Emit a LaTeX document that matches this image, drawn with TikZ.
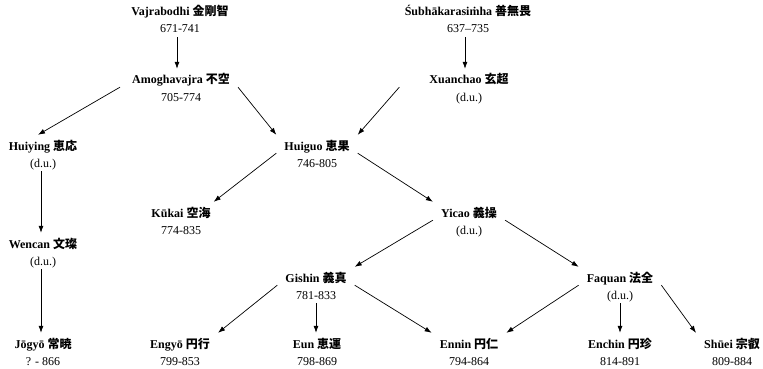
\documentclass[tikz,border=0pt]{standalone}
\usepackage{fontspec}
\setmainfont{Liberation Serif}
\newfontfamily\cjk{Noto Sans CJK JP}
\usetikzlibrary{arrows.meta}
\newcommand\person[5]{%
  \node[nm] (#1) at (#2,#3) {#4};
  \node[dt] (#1d) at (#2,#3+17) {#5};}
\begin{document}
\begin{tikzpicture}[x=1pt,y=-1pt,
  nm/.style={font=\fontsize{12}{14}\selectfont\bfseries, inner ysep=0pt, inner xsep=8pt, text height=15pt, text depth=3pt, anchor=base},
  dt/.style={font=\fontsize{12}{14}\selectfont, inner sep=0pt, text height=8pt, text depth=4pt, anchor=base},
  arr/.style={-{Latex[length=7pt,width=5pt]}, line width=0.7pt}]
\useasboundingbox (0,0) rectangle (763,369);
\person{vajra}{180}{16}{Vajrabodhi {\cjk 金剛智}}{671-741}
\person{subh}{468}{16}{Śubhākarasiṁha {\cjk 善無畏}}{637–735}
\person{amogha}{181}{84}{Amoghavajra {\cjk 不空}}{705-774}
\person{xuan}{469}{84}{Xuanchao {\cjk 玄超}}{(d.u.)}
\person{huiying}{43}{150}{Huiying {\cjk 恵応}}{(d.u.)}
\person{huiguo}{317}{150}{Huiguo {\cjk 恵果}}{746-805}
\person{kukai}{181}{217}{Kūkai {\cjk 空海}}{774-835}
\person{yicao}{469}{217}{Yicao {\cjk 義操}}{(d.u.)}
\person{wencan}{43}{248}{Wencan {\cjk 文璨}}{(d.u.)}
\person{gishin}{316}{282}{Gishin {\cjk 義真}}{781-833}
\person{faquan}{620}{282}{Faquan {\cjk 法全}}{(d.u.)}
\person{jogyo}{43}{348}{Jōgyō {\cjk 常暁}}{? - 866}
\person{engyo}{180}{348}{Engyō {\cjk 円行}}{799-853}
\person{eun}{317}{348}{Eun {\cjk 恵運}}{798-869}
\person{ennin}{469}{348}{Ennin {\cjk 円仁}}{794-864}
\person{enchin}{620}{348}{Enchin {\cjk 円珍}}{814-891}
\person{shuei}{732}{348}{Shūei {\cjk 宗叡}}{809-884}
% vertical
\draw[arr] ([xshift=-3pt]vajrad.south) -- ([xshift=-3pt]vajrad.south |- amogha.north);
\draw[arr] ([xshift=-3pt]subhd.south) -- ([xshift=-3pt]subhd.south |- xuan.north);
\draw[arr] ([xshift=-2pt]huiyingd.south) -- ([xshift=-2pt]huiyingd.south |- wencan.north);
\draw[arr] ([xshift=-2pt]wencand.south) -- ([xshift=-2pt]wencand.south |- jogyo.north);
\draw[arr] (gishind.south) -- (gishind.south |- eun.north);
\draw[arr] (faquand.south) -- (faquand.south |- enchin.north);
% diagonal
\draw[arr] ([xshift=-4pt]amogha.south west) -- ([xshift=-5pt]huiying.north);
\draw[arr] (amogha.south east) -- (huiguo.north west);
\draw[arr] ([xshift=-22pt]xuan.south west) -- (huiguo.north east);
\draw[arr] (huiguo.south west) -- ([xshift=-5pt]kukai.north east);
\draw[arr] (huiguo.south east) -- (yicao.north west);
\draw[arr] (yicao.south west) -- (gishin.north east);
\draw[arr] (yicao.south east) -- (faquan.north west);
\draw[arr] (gishin.south west) -- (engyo.north east);
\draw[arr] (gishin.south east) -- (ennin.north west);
\draw[arr] (faquan.south west) -- (ennin.north east);
\draw[arr] (faquan.south east) -- (shuei.north west);
\end{tikzpicture}
\end{document}
